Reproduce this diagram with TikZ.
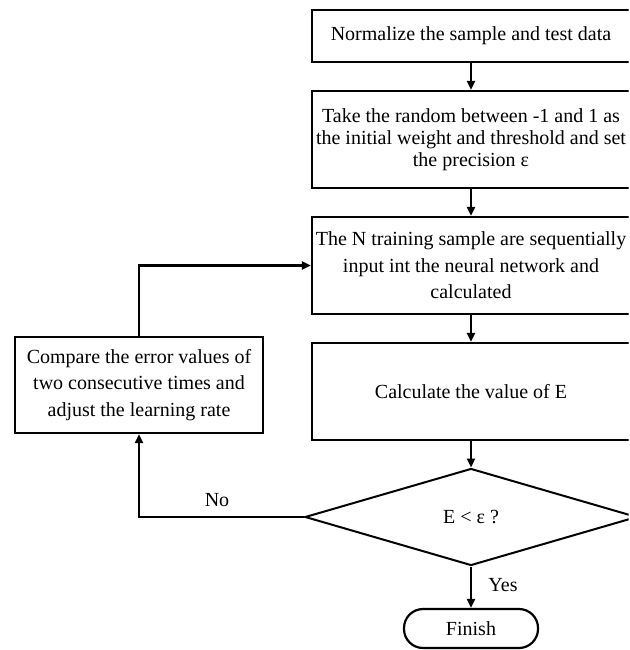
\documentclass[tikz,border=0pt]{standalone}
\usepackage{fontspec}
\setmainfont{Liberation Serif}
\usetikzlibrary{arrows.meta,shapes.geometric}
\tikzset{
  stepbox/.style={draw, line width=2.2pt, rectangle, inner sep=0pt, align=center,
    font=\fontsize{20}{26.5}\selectfont},
  decide/.style={draw, line width=2pt, diamond, inner sep=0pt, aspect=3.4,
    minimum width=332pt, minimum height=97pt, font=\fontsize{20}{24}\selectfont},
  term/.style={draw, line width=2.2pt, rectangle, rounded corners=19pt, inner sep=0pt,
    minimum width=134pt, minimum height=39pt, font=\fontsize{20}{24}\selectfont},
  lbl/.style={font=\fontsize{20}{24}\selectfont, inner sep=0pt},
  flow/.style={line width=2.2pt, -{Triangle[length=9pt,width=8pt]}},
}
\begin{document}
\begin{tikzpicture}[x=1pt,y=-1pt]
\useasboundingbox (0,0) rectangle (629,650);
\clip (0,0) rectangle (628.7,650);
\node[stepbox, minimum width=318pt, minimum height=52pt] (b1) at (471,36)
  {Normalize the sample and test data};
\node[stepbox, minimum width=318pt, minimum height=97pt,
  font=\fontsize{20}{21.7}\selectfont] (b2) at (471,139.5)
  {Take the random between -1 and 1 as\\the initial weight and threshold and set\\the precision ε};
\node[stepbox, minimum width=318pt, minimum height=97pt] (b3) at (471,265.5)
  {The N training sample are sequentially\\input int the neural network and\\calculated};
\node[stepbox, minimum width=318pt, minimum height=97pt] (b4) at (471,391.5)
  {Calculate the value of E};
\node[decide] (d) at (471,517) {E < ε ?};
\node[term] (fin) at (471,628.5) {Finish};
\node[stepbox, minimum width=248pt, minimum height=96pt] (cmp) at (139,385)
  {Compare the error values of\\two consecutive times and\\adjust the learning rate};
\node[lbl] (no) at (217,500) {No};
\node[lbl] (yes) at (503,585) {Yes};
\draw[flow] (b1) -- (b2);
\draw[flow] (b2) -- (b3);
\draw[flow] (b3) -- (b4);
\draw[flow] (b4) -- (d);
\draw[flow] (d) -- (fin);
\draw[flow] (d.west) -| (cmp.south);
\draw[flow] (cmp.north) |- (b3.west);
\end{tikzpicture}
\end{document}
